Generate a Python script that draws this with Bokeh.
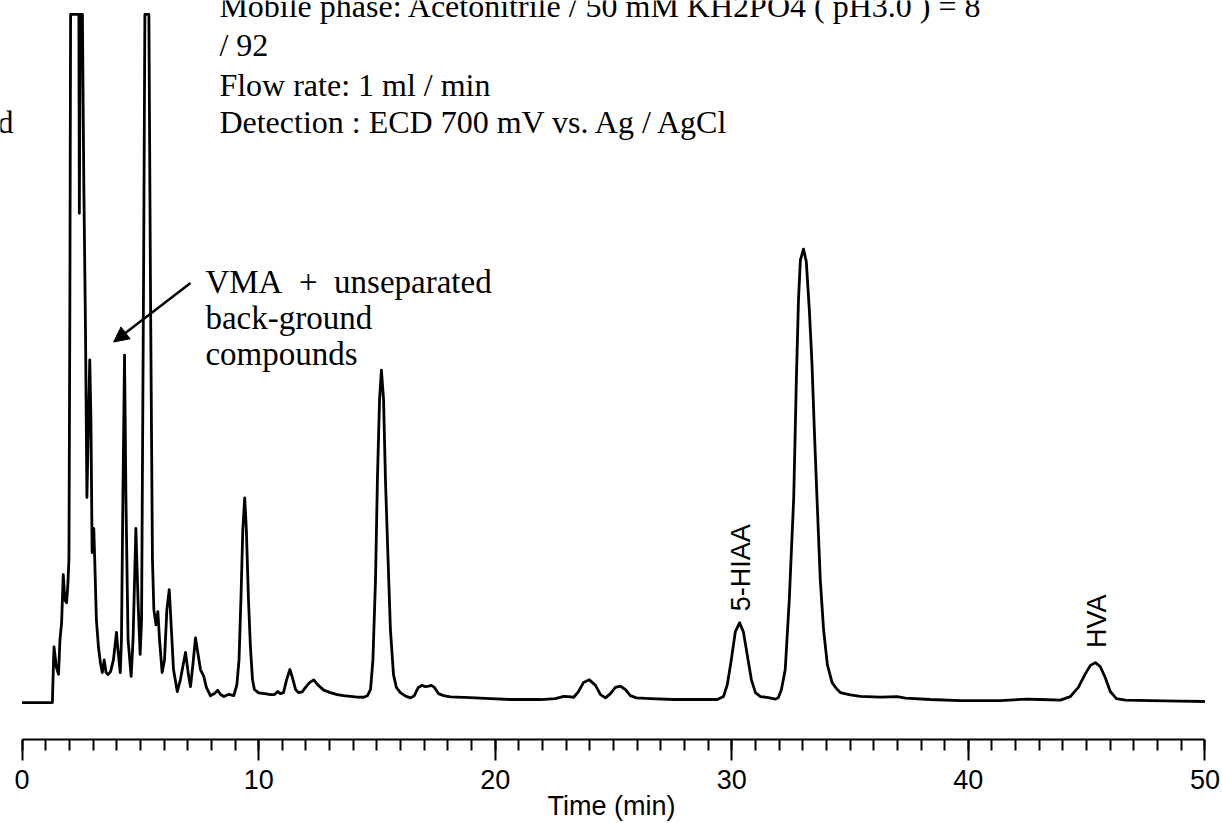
from math import pi
from bokeh.plotting import figure
from bokeh.models import Range1d, SingleIntervalTicker, Label, Arrow, NormalHead, ColumnDataSource
from bokeh.embed import file_html
from bokeh.resources import INLINE

# Chromatogram trace: retention time (min) and detector response (arb. units, clipped at 100)
time_min = [
    0.00, 1.28, 1.33, 1.35, 1.45, 1.54, 1.60, 1.67, 1.74, 1.81,
    1.88, 1.93, 1.98, 2.02, 2.05, 2.40, 2.42, 2.46, 2.55, 2.61,
    2.68, 2.74, 2.80, 2.86, 2.91, 2.96, 3.03, 3.07, 3.14, 3.23,
    3.31, 3.39, 3.47, 3.55, 3.63, 3.74, 3.86, 3.99, 4.05, 4.15,
    4.20, 4.26, 4.33, 4.39, 4.48, 4.61, 4.69, 4.81, 4.90, 4.99,
    5.05, 5.13, 5.19, 5.36, 5.43, 5.51, 5.57, 5.66, 5.74, 5.81,
    5.92, 6.02, 6.12, 6.22, 6.29, 6.40, 6.56, 6.69, 6.91, 7.03,
    7.12, 7.22, 7.33, 7.44, 7.54, 7.68, 7.79, 7.96, 8.13, 8.27,
    8.39, 8.53, 8.74, 8.95, 9.08, 9.17, 9.25, 9.33, 9.41, 9.48,
    9.57, 9.65, 9.74, 9.82, 10.00, 10.25, 10.50, 10.67, 10.81, 10.92,
    11.05, 11.18, 11.32, 11.43, 11.56, 11.68, 11.84, 11.98, 12.15, 12.33,
    12.49, 12.75, 13.03, 13.32, 13.58, 13.88, 14.18, 14.44, 14.60, 14.73,
    14.83, 14.94, 15.02, 15.11, 15.19, 15.28, 15.36, 15.47, 15.57, 15.70,
    15.82, 15.99, 16.21, 16.42, 16.58, 16.75, 16.91, 17.05, 17.19, 17.30,
    17.43, 17.60, 17.82, 18.11, 18.95, 19.80, 20.64, 21.91, 22.54, 22.90,
    23.09, 23.32, 23.52, 23.73, 23.98, 24.24, 24.45, 24.66, 24.87, 25.08,
    25.29, 25.50, 25.71, 25.97, 26.56, 27.53, 28.67, 29.39, 29.65, 29.81,
    29.98, 30.15, 30.33, 30.49, 30.65, 30.83, 31.00, 31.21, 31.55, 31.85,
    31.97, 32.10, 32.26, 32.43, 32.62, 32.73, 32.82, 32.90, 33.03, 33.15,
    33.28, 33.39, 33.49, 33.60, 33.74, 33.88, 34.04, 34.24, 34.43, 34.59,
    35.01, 35.44, 36.28, 36.99, 37.34, 38.39, 39.66, 41.35, 42.48, 43.04,
    43.89, 44.31, 44.65, 44.95, 45.16, 45.37, 45.58, 45.79, 46.00, 46.26,
    46.64, 47.70, 48.96, 50.00,
]
response = [
    0.0, 0.0, 6.2, 8.1, 5.1, 4.1, 9.1, 11.6, 18.6, 14.9,
    14.5, 16.8, 20.8, 58.5, 100, 100, 71.1, 100, 100, 75.0,
    54.1, 29.8, 40.0, 49.8, 41.1, 21.8, 25.3, 20.8, 12.0, 8.0,
    5.8, 4.35, 6.2, 4.35, 4.06, 4.5, 6.2, 10.2, 7.7, 4.35,
    9.1, 29.5, 50.5, 29.5, 9.1, 3.8, 9.1, 25.3, 14.9, 7.0,
    12.0, 58.5, 100, 100, 58.5, 20.8, 13.5, 11.3, 13.2, 9.1,
    4.35, 6.2, 13.5, 16.4, 12.0, 4.8, 1.6, 3.3, 7.3, 4.06,
    2.3, 5.5, 9.4, 7.0, 4.8, 3.8, 2.2, 1.0, 1.3, 1.8,
    1.16, 0.87, 1.2, 1.0, 2.6, 6.2, 14.9, 25.1, 29.75, 25.1,
    14.9, 8.2, 3.3, 1.9, 1.4, 1.3, 1.16, 1.16, 1.6, 1.3,
    1.45, 3.3, 4.8, 3.6, 1.9, 1.45, 1.55, 2.2, 2.9, 3.3,
    2.6, 1.8, 1.45, 1.16, 1.0, 0.9, 0.8, 0.77, 1.0, 1.9,
    6.2, 17.9, 32.4, 44.0, 48.3, 44.0, 32.4, 20.8, 10.6, 4.06,
    2.2, 1.45, 0.94, 0.68, 1.0, 2.2, 2.5, 2.3, 2.4, 2.5,
    2.2, 1.3, 1.0, 0.83, 0.73, 0.58, 0.44, 0.44, 0.58, 0.91,
    0.87, 0.77, 1.6, 2.9, 3.3, 2.5, 1.16, 0.68, 1.3, 2.2,
    2.4, 1.9, 1.0, 0.68, 0.58, 0.44, 0.44, 0.44, 0.87, 2.6,
    6.2, 10.3, 11.6, 10.3, 7.0, 3.3, 1.45, 0.87, 0.73, 0.5,
    0.73, 1.9, 4.8, 14.9, 29.9, 46.9, 58.5, 64.3, 65.9, 64.1,
    57.0, 49.3, 39.6, 29.9, 17.9, 10.6, 5.5, 2.9, 2.0, 1.45,
    1.1, 0.91, 0.8, 0.87, 0.65, 0.44, 0.29, 0.29, 0.5, 0.44,
    0.36, 0.87, 2.2, 4.2, 5.4, 5.8, 5.2, 3.6, 1.6, 0.58,
    0.36, 0.29, 0.22, 0.15,
]
assert len(time_min) == len(response)

# Peak labels
peak_names = ["5-HIAA", "HVA"]
peak_times = [30.37, 45.45]
peak_label_y = [19.6, 11.8]

# Conditions text
conditions = [
    "Mobile phase:  Acetonitrile / 50 mM KH2PO4 ( pH3.0 ) = 8",
    "/ 92",
    "Flow rate: 1 ml / min",
    "Detection : ECD 700 mV vs. Ag / AgCl",
]
cond_y = [101.2, 95.5, 89.8, 84.3]
vma_text = ["VMA\u00a0\u00a0+\u00a0\u00a0unseparated", "back-ground", "compounds"]
vma_y = [61.1, 55.9, 50.65]

# The frame covers the whole canvas so that texts near the edges are not clipped;
# the axis itself is bounded to 0-50 min.
p = figure(
    width=1222, height=823,
    output_backend="svg", toolbar_location=None,
    x_range=Range1d(-0.913, 50.744), y_range=Range1d(-5.37, 102.03),
    min_border_left=0, min_border_right=0, min_border_top=0, min_border_bottom=83,
    y_axis_location=None,
)
p.xgrid.visible = False
p.ygrid.visible = False
p.outline_line_color = None
p.background_fill_color = "white"
p.border_fill_color = "white"

src = ColumnDataSource(dict(t=time_min, s=response))
p.line("t", "s", source=src, line_color="black", line_width=2.8, line_join="round")

ax = p.xaxis[0]
ax.bounds = (0, 50)
ax.ticker = SingleIntervalTicker(interval=10, num_minor_ticks=10)
ax.axis_line_width = 2
ax.axis_line_color = "black"
ax.major_tick_line_width = 2
ax.minor_tick_line_width = 2
ax.major_tick_line_color = "black"
ax.minor_tick_line_color = "black"
ax.major_tick_in = 0
ax.major_tick_out = 21
ax.minor_tick_in = 0
ax.minor_tick_out = 11
ax.major_label_text_font = "Liberation Sans"
ax.major_label_text_font_size = "27px"
ax.major_label_text_color = "black"
ax.major_label_standoff = 9
ax.axis_label = "Time (min)"
ax.axis_label_text_font = "Liberation Sans"
ax.axis_label_text_font_size = "27px"
ax.axis_label_text_font_style = "normal"
ax.axis_label_text_color = "black"
ax.axis_label_standoff = -1

# Peak labels (rotated)
for name, t, y in zip(peak_names, peak_times, peak_label_y):
    p.add_layout(Label(x=t, y=y, text=name, angle=pi / 2, text_font="Liberation Sans",
                       text_font_size="27px", text_align="center", text_baseline="middle",
                       text_color="black"))

# Conditions block
for txt, y in zip(conditions, cond_y):
    p.add_layout(Label(x=8.34, y=y, text=txt, text_font="Liberation Serif",
                       text_font_size="32px", text_align="left", text_baseline="middle",
                       text_color="black"))

p.add_layout(Label(x=-0.36, y=84.3, text="d", text_font="Liberation Serif",
                   text_font_size="32px", text_align="right", text_baseline="middle",
                   text_color="black"))

for txt, y in zip(vma_text, vma_y):
    p.add_layout(Label(x=7.75, y=y, text=txt, text_font="Liberation Serif",
                       text_font_size="33px", text_align="left", text_baseline="middle",
                       text_color="black"))

p.add_layout(Arrow(end=NormalHead(size=15, fill_color="black", line_color="black"),
                   x_start=7.12, y_start=60.96, x_end=3.87, y_end=52.4,
                   line_width=2.5, line_color="black"))

open("out.html", "w").write(file_html(p, INLINE))
